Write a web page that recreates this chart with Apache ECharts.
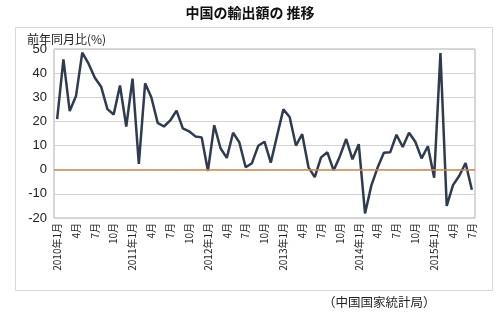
<!DOCTYPE html>
<html><head><meta charset="utf-8">
<script src="https://cdn.jsdelivr.net/npm/echarts@6/dist/echarts.min.js"></script>
<style>html,body{margin:0;padding:0;background:#fff;}#c{width:500px;height:322px;}</style>
</head><body><div id="c"></div>
<script>
var years = [2010, 2011, 2012, 2013, 2014, 2015];
var categories = [];
years.forEach(function(y){ for (var m = 1; m <= 12; m++) { if (y === 2015 && m > 7) break; categories.push(y + '年' + m + '月'); } });
var exportYoY = [
  21.0, 45.7, 24.3, 30.5, 48.5, 43.9, 38.1, 34.4, 25.1, 22.9, 34.9, 17.9,
  37.7, 2.4, 35.8, 29.9, 19.4, 17.9, 20.4, 24.5, 17.1, 15.9, 13.8, 13.4,
  -0.5, 18.4, 8.9, 4.9, 15.3, 11.3, 1.0, 2.7, 9.9, 11.6, 2.9, 14.1,
  25.0, 21.8, 10.0, 14.7, 1.0, -3.1, 5.1, 7.2, -0.3, 5.6, 12.7, 4.3,
  10.6, -18.1, -6.6, 0.9, 7.0, 7.2, 14.5, 9.4, 15.3, 11.6, 4.7, 9.7,
  -3.3, 48.3, -15.0, -6.4, -2.5, 2.8, -8.3
];
var FONT = '"Noto Sans CJK JP", sans-serif';
var chart = echarts.init(document.getElementById('c'));
chart.setOption({
  animation: false,
  textStyle: { fontFamily: FONT },
  title: [
    { text: '中国の輸出額の 推移', left: 'center', top: 1, textStyle: { fontFamily: FONT, fontSize: 14, fontWeight: 'bold', color: '#111' } },
    { text: '前年同月比(%)', left: 22, top: 28, textStyle: { fontFamily: FONT, fontSize: 12, fontWeight: 'normal', color: '#222' } },
    { text: '（中国国家統計局）', left: 318, top: 291, textStyle: { fontFamily: FONT, fontSize: 12.5, fontWeight: 'normal', color: '#222' } }
  ],
  graphic: [{ type: 'rect', shape: { x: 15.5, y: 27.5, width: 477, height: 263 }, style: { fill: 'none', stroke: '#d9d9d9', lineWidth: 1 } }],
  grid: { left: 54, top: 49, right: 25, bottom: 104, show: true, borderColor: '#b0b0b0', borderWidth: 1 },
  xAxis: {
    type: 'category', data: categories, boundaryGap: true,
    axisLine: { show: false }, axisTick: { show: false },
    axisLabel: {
      interval: 2, rotate: 90, fontSize: 10, color: '#222', margin: 5, fontFamily: FONT,
      formatter: function(v){ return v.indexOf('年1月') > 0 ? v : v.replace(/^\d+年/, ''); }
    },
    splitLine: { show: false }
  },
  yAxis: {
    type: 'value', min: -20, max: 50, interval: 10,
    axisLine: { show: false }, axisTick: { show: false },
    axisLabel: { fontSize: 13, color: '#222', margin: 7, fontFamily: 'Arial, "Liberation Sans", sans-serif' },
    splitLine: { lineStyle: { color: '#d4d4d4', width: 1 } }
  },
  series: [{
    type: 'line', data: exportYoY, symbol: 'none',
    lineStyle: { color: '#2f3b4f', width: 2.5 },
    markLine: {
      silent: true, symbol: 'none', label: { show: false },
      lineStyle: { color: '#d08a4e', width: 1.5, type: 'solid' },
      data: [{ yAxis: 0 }]
    },
    z: 3
  }]
});
</script></body></html>
